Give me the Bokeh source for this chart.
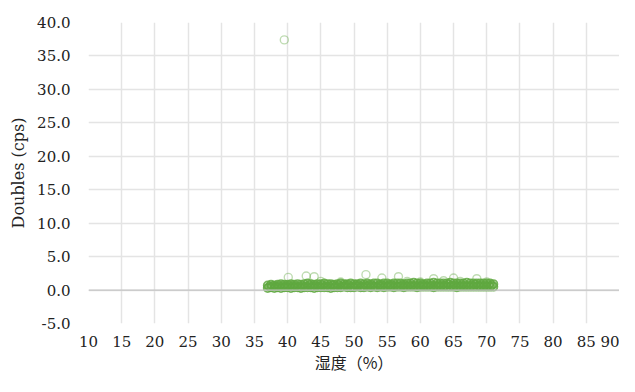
from bokeh.plotting import figure
from bokeh.embed import file_html
from bokeh.resources import INLINE
from bokeh.models import FixedTicker, NumeralTickFormatter, Span, ColumnDataSource

# ---- data ----
humidity_band = [
    37.0, 37.5, 38.0, 38.5, 39.0, 39.5, 40.0, 40.5, 41.0, 41.5,
    42.0, 42.5, 43.0, 43.5, 44.0, 44.5, 45.0, 45.5, 46.0, 46.5,
    47.0, 47.5, 48.0, 48.5, 49.0, 49.5, 50.0, 50.5, 51.0, 51.5,
    52.0, 52.5, 53.0, 53.5, 54.0, 54.5, 55.0, 55.5, 56.0, 56.5,
    57.0, 57.5, 58.0, 58.5, 59.0, 59.5, 60.0, 60.5, 61.0, 61.5,
    62.0, 62.5, 63.0, 63.5, 64.0, 64.5, 65.0, 65.5, 66.0, 66.5,
    67.0, 67.5, 68.0, 68.5, 69.0, 69.5, 70.0, 70.5, 71.0,
]
doubles_low = [
    0.3, 0.4, 0.3, 0.4, 0.3, 0.4, 0.4, 0.3, 0.4, 0.4,
    0.3, 0.4, 0.4, 0.4, 0.3, 0.4, 0.4, 0.4, 0.4, 0.3,
    0.4, 0.4, 0.4, 0.5, 0.4, 0.4, 0.4, 0.5, 0.4, 0.4,
    0.5, 0.4, 0.5, 0.4, 0.5, 0.4, 0.5, 0.5, 0.4, 0.5,
    0.5, 0.4, 0.5, 0.5, 0.5, 0.4, 0.5, 0.5, 0.5, 0.5,
    0.4, 0.5, 0.5, 0.5, 0.5, 0.5, 0.5, 0.4, 0.5, 0.5,
    0.5, 0.5, 0.5, 0.5, 0.5, 0.5, 0.5, 0.5, 0.5,
]
doubles_high = [
    0.7, 0.8, 0.7, 0.8, 0.9, 0.8, 0.8, 0.9, 0.8, 0.9,
    0.8, 0.9, 1.0, 0.9, 0.8, 0.9, 0.9, 1.0, 0.9, 0.9,
    0.8, 0.9, 1.0, 0.9, 0.9, 1.0, 0.9, 0.9, 1.0, 0.9,
    1.0, 0.9, 1.0, 1.0, 0.9, 1.0, 1.0, 0.9, 1.0, 1.0,
    1.0, 0.9, 1.0, 1.0, 1.1, 1.0, 1.0, 0.9, 1.0, 1.0,
    1.1, 1.0, 1.0, 1.0, 1.0, 1.1, 1.0, 1.0, 1.0, 1.0,
    1.1, 1.0, 1.0, 1.0, 1.0, 1.0, 1.0, 1.0, 0.9,
]
humidity_mid = [
    37.25, 37.75, 38.25, 38.75, 39.25, 39.75, 40.25, 40.75, 41.25, 41.75,
    42.25, 42.75, 43.25, 43.75, 44.25, 44.75, 45.25, 45.75, 46.25, 46.75,
    47.25, 47.75, 48.25, 48.75, 49.25, 49.75, 50.25, 50.75, 51.25, 51.75,
    52.25, 52.75, 53.25, 53.75, 54.25, 54.75, 55.25, 55.75, 56.25, 56.75,
    57.25, 57.75, 58.25, 58.75, 59.25, 59.75, 60.25, 60.75, 61.25, 61.75,
    62.25, 62.75, 63.25, 63.75, 64.25, 64.75, 65.25, 65.75, 66.25, 66.75,
    67.25, 67.75, 68.25, 68.75, 69.25, 69.75, 70.25, 70.75,
]
doubles_mid = [
    0.5, 0.6, 0.5, 0.6, 0.6, 0.5, 0.6, 0.6, 0.6, 0.5,
    0.6, 0.6, 0.7, 0.6, 0.6, 0.6, 0.7, 0.6, 0.6, 0.7,
    0.6, 0.7, 0.6, 0.7, 0.7, 0.6, 0.7, 0.7, 0.6, 0.7,
    0.7, 0.7, 0.6, 0.7, 0.7, 0.7, 0.7, 0.7, 0.7, 0.6,
    0.7, 0.7, 0.7, 0.7, 0.7, 0.7, 0.7, 0.7, 0.7, 0.7,
    0.7, 0.7, 0.7, 0.7, 0.8, 0.7, 0.7, 0.7, 0.7, 0.7,
    0.7, 0.7, 0.8, 0.7, 0.7, 0.7, 0.7, 0.7,
]
humidity_other = [39.5, 40.1, 42.8, 44.0, 45.0, 48.0, 51.8, 54.2, 56.7, 58.0,
                  60.0, 62.0, 63.5, 65.0, 66.0, 68.5, 70.0]
doubles_other = [37.4, 1.9, 2.1, 2.0, 1.3, 1.2, 2.3, 1.8, 2.0, 1.3,
                 1.2, 1.7, 1.4, 1.8, 1.3, 1.7, 1.2]

x_ticks = [10, 15, 20, 25, 30, 35, 40, 45, 50, 55, 60, 65, 70, 75, 80, 85, 90]
y_ticks = [-5, 0, 5, 10, 15, 20, 25, 30, 35, 40]

band_src = ColumnDataSource(dict(x=humidity_band + humidity_mid + humidity_band,
                                 y=doubles_low + doubles_mid + doubles_high))
other_src = ColumnDataSource(dict(x=humidity_other, y=doubles_other))

p = figure(width=619, height=376, output_backend="svg", toolbar_location=None,
           x_range=(10, 90), y_range=(-5, 40),
           min_border_left=88, min_border_right=0, min_border_top=22, min_border_bottom=44)
p.outline_line_color = None
p.background_fill_color = "white"
p.border_fill_color = "white"

green = "#5fa83f"
p.scatter("x", "y", source=other_src, size=8, marker="circle", fill_color=None,
          line_color=green, line_alpha=0.4, line_width=1.4)
p.scatter("x", "y", source=band_src, size=8, marker="circle", fill_color=None,
          line_color=green, line_alpha=0.85, line_width=1.8)

zero = Span(location=0, dimension="width", line_color="#c4c4c4", line_width=1.2)
p.add_layout(zero)

serif = "DejaVu Serif"
for ax in (p.xaxis, p.yaxis):
    ax.axis_line_color = None
    ax.major_tick_line_color = None
    ax.minor_tick_line_color = None
    ax.major_label_text_font = serif
    ax.major_label_text_font_size = "15px"
    ax.major_label_text_color = "#222222"
    ax.axis_label_text_font_style = "normal"
    ax.axis_label_text_color = "#222222"

p.xaxis.ticker = FixedTicker(ticks=x_ticks)
p.yaxis.ticker = FixedTicker(ticks=y_ticks)
p.yaxis.formatter = NumeralTickFormatter(format="0.0")
p.xaxis.major_label_standoff = 6
p.yaxis.major_label_standoff = 12

p.xaxis.axis_label = "湿度（%）"
p.xaxis.axis_label_text_font = "Noto Sans CJK SC"
p.xaxis.axis_label_text_font_size = "16px"
p.xaxis.axis_label_standoff = 0

p.yaxis.axis_label = "Doubles (cps)"
p.yaxis.axis_label_text_font = serif
p.yaxis.axis_label_text_font_size = "16px"
p.yaxis.axis_label_standoff = 6

p.xgrid.ticker = FixedTicker(ticks=x_ticks)
p.ygrid.ticker = FixedTicker(ticks=y_ticks)
p.xgrid.grid_line_color = "#e4e4e4"
p.ygrid.grid_line_color = "#e4e4e4"
p.xgrid.grid_line_width = 1.5
p.ygrid.grid_line_width = 1.5

open("out.html", "w").write(file_html(p, INLINE))
